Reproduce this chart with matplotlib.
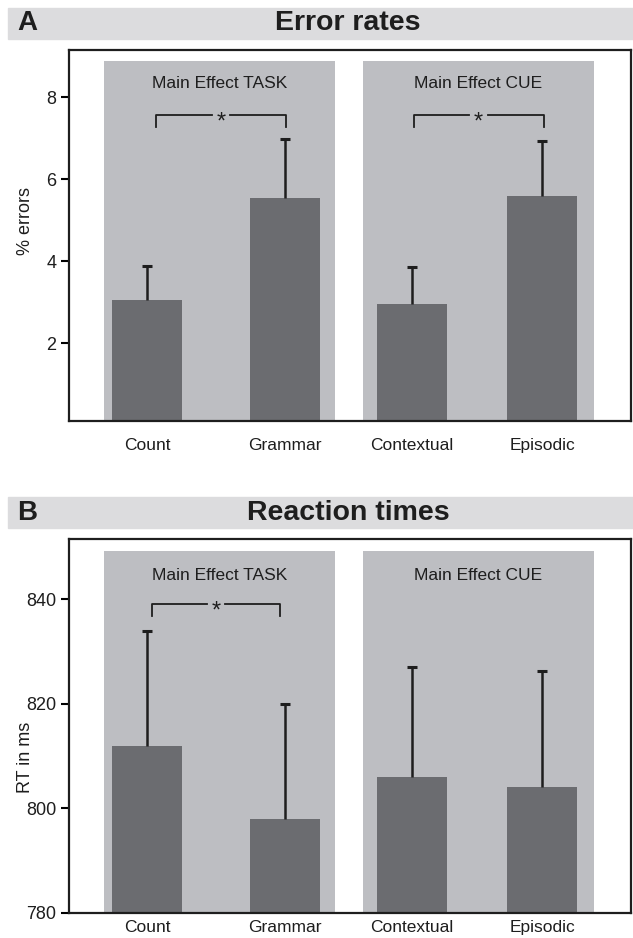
import numpy as np
import matplotlib
matplotlib.use("Agg")
from matplotlib import pyplot as plt
from matplotlib.patches import Rectangle

plt.rcParams['font.family'] = ['Liberation Sans', 'DejaVu Sans']

# dane
conditions = ["Count", "Grammar", "Contextual", "Episodic"]
err_rate = [3.05, 5.55, 2.96, 5.58]
err_rate_se = [0.83, 1.42, 0.89, 1.36]
rt_ms = [812.0, 798.0, 806.0, 804.0]
rt_se = [22.0, 21.9, 21.1, 22.3]
groups = ["Main Effect TASK", "Main Effect CUE"]

# kolory
BAND = "#dcdcde"
BG = "#bdbec2"
BAR = "#6b6c70"
INK = "#1e1e1e"

# pozycje slupkow (nie do konca rowne odstepy jak w oryginale)
pos = np.array([1.0, 2.06, 3.04, 4.04])
bg_spans = [(0.67, 2.445), (2.66, 4.44)]

fig = plt.figure(figsize=(6.33, 9.38), dpi=100)
W, H = 633, 938


def header(y_top, y_bot, letter, title):
    # szary pasek z tytulem
    fig.patches.append(Rectangle((8 / W, 1 - y_bot / H), 1 - 8 / W, (y_bot - y_top) / H,
                                 transform=fig.transFigure, color=BAND, zorder=0))
    yc = 1 - (y_top + y_bot) / 2 / H
    fig.text(27 / W, yc, letter, fontsize=20, fontweight="bold", ha="center", va="center", color=INK)
    fig.text(348 / W, yc, title, fontsize=20.5, fontweight="bold", ha="center", va="center", color=INK)


def panel(rect, vals, errs, ylim, yticks, ylabel, bg_top, text_y, brackets, lab_y, xpad):
    ax = fig.add_axes(rect)
    base = ylim[0] if ylim[0] > 100 else 0
    # tlo dla grup
    centers = [(a + b) / 2 for a, b in bg_spans]
    widths = [b - a for a, b in bg_spans]
    ax.bar(centers, bg_top - base, width=widths, bottom=base, color=BG, zorder=1)
    ax.bar(pos, np.array(vals) - base, width=0.54, bottom=base, color=BAR, zorder=2)
    eb = ax.errorbar(pos, vals, yerr=[np.zeros(len(vals)), errs], fmt="none", ecolor=INK,
                     elinewidth=1.8, capsize=3.4, capthick=2.2, zorder=3)
    eb[1][0].set_visible(False)  # bez dolnych kapturkow

    for c, g in zip(centers, groups):
        ax.text(c, text_y, g, fontsize=12.5, ha="center", va="center", color=INK, zorder=4)

    for x0, x1, y, drop in brackets:
        xm = (x0 + x1) / 2
        gap = 0.07
        ax.plot([x0, x0, xm - gap], [y - drop, y, y], color=INK, lw=1.3, zorder=4)
        ax.plot([xm + gap, x1, x1], [y, y, y - drop], color=INK, lw=1.3, zorder=4)
        ax.annotate("*", (xm, y), xytext=(0, -9.5), textcoords="offset points",
                    ha="center", va="baseline", fontsize=17, color=INK, zorder=4)

    ax.set_xlim(0.4, 4.723)
    ax.set_ylim(*ylim)
    ax.set_yticks(yticks)
    ax.set_xticks(pos)
    ax.set_xticklabels(conditions)
    ax.tick_params(axis="x", length=0, pad=xpad, labelsize=12.5, labelcolor=INK)
    ax.tick_params(axis="y", length=6, width=1.5, pad=3, labelsize=13, labelcolor=INK)
    ax.set_ylabel(ylabel, fontsize=13, color=INK)
    ax.yaxis.set_label_coords(-0.063, lab_y)
    for s in ax.spines.values():
        s.set_linewidth(1.6)
        s.set_color(INK)
    return ax


header(8, 39, "A", "Error rates")
header(497, 528, "B", "Reaction times")

panel([69 / W, 1 - 421 / H, 562 / W, 371 / H], err_rate, err_rate_se, (0.1, 9.15),
      [2, 4, 6, 8], "% errors", 8.885, 8.34,
      [(1.07, 2.07, 7.56, 0.28), (3.05, 4.05, 7.56, 0.28)], 0.54, 12)

panel([69 / W, 1 - 913 / H, 562 / W, 374 / H], rt_ms, rt_se, (780, 851.5),
      [780, 800, 820, 840], "RT in ms", 849.2, 844.6,
      [(1.04, 2.025, 839.1, 2.3)], 0.417, 5)

fig.savefig("out.png", dpi=100)
